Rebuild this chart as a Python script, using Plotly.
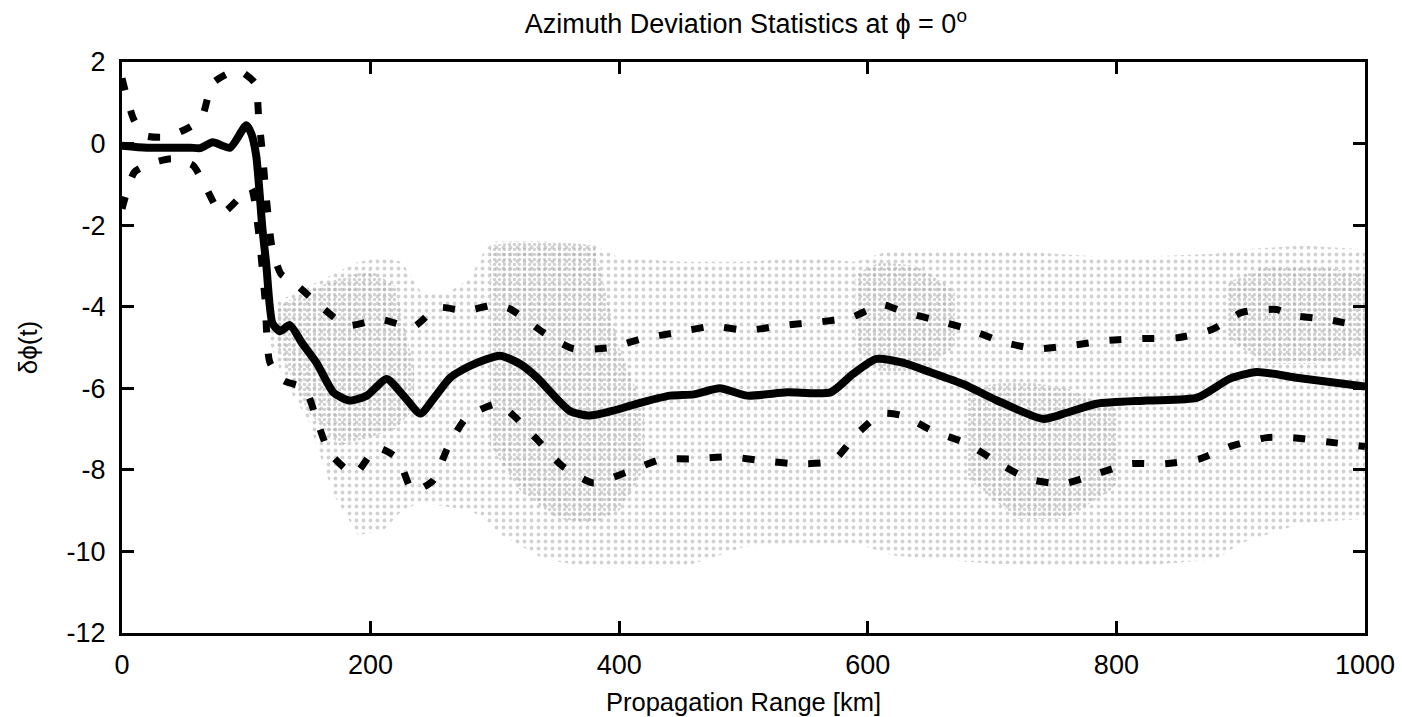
import plotly.graph_objects as go

# ---- statistics curves ----
mean_x = [0, 20, 40, 55, 63, 73, 87, 100, 104, 108, 113, 116, 121, 127, 135, 145, 157, 170, 183, 197, 213,
          227, 240, 252, 264, 280, 304, 320, 334, 360, 376, 395, 414, 441, 460, 481, 503, 535, 570, 588, 607,
          628, 650, 677, 704, 741, 760, 784, 825, 865, 891, 913, 945, 1000]
mean_y = [-0.05, -0.1, -0.1, -0.1, -0.11, 0.03, -0.1, 0.45, 0.25, -0.3, -2.1, -2.94, -4.4, -4.6, -4.45, -4.9,
          -5.4, -6.1, -6.3, -6.18, -5.77, -6.2, -6.62, -6.2, -5.74, -5.45, -5.2, -5.4, -5.74, -6.55, -6.67,
          -6.55, -6.38, -6.18, -6.15, -6.0, -6.18, -6.1, -6.1, -5.65, -5.28, -5.37, -5.6, -5.9, -6.3, -6.75,
          -6.6, -6.38, -6.3, -6.23, -5.77, -5.6, -5.74, -5.96]

upper_x = [0, 9, 18, 35, 53, 64, 73, 93, 107, 110, 113, 116, 121, 128, 138, 159, 181, 208, 234, 254, 277,
           300, 312, 339, 363, 393, 419, 447, 475, 503, 531, 559, 586, 612, 628, 656, 682, 709, 736, 764,
           792, 820, 849, 877, 901, 929, 941, 969, 1000]
upper_y = [1.6, 0.62, 0.2, 0.16, 0.38, 0.62, 1.48, 1.8, 1.48, 0.62, -0.24, -1.3, -2.6, -3.2, -3.4, -3.97,
           -4.46, -4.31, -4.5, -4.02, -4.1, -3.95, -4.05, -4.63, -5.03, -5.0, -4.78, -4.63, -4.48, -4.58,
           -4.46, -4.38, -4.27, -3.95, -4.12, -4.34, -4.56, -4.87, -5.03, -4.95, -4.83, -4.78, -4.76,
           -4.56, -4.14, -4.07, -4.21, -4.31, -4.5]

lower_x = [0, 10, 24, 40, 57, 66, 80, 99, 104, 110, 115, 119, 130, 147, 157, 167, 187, 205, 222, 234, 250,
           262, 277, 302, 315, 335, 354, 379, 405, 433, 461, 489, 516, 544, 572, 590, 611, 628, 652, 680,
           705, 729, 757, 784, 811, 839, 867, 893, 921, 941, 969, 1000]
lower_y = [-1.6, -0.7, -0.48, -0.37, -0.53, -0.98, -1.71, -1.19, -1.1, -2.2, -3.8, -5.37, -5.81, -6.0,
           -6.8, -7.58, -8.1, -7.46, -7.73, -8.52, -8.27, -7.46, -6.72, -6.38, -6.67, -7.29, -7.9, -8.32,
           -8.07, -7.75, -7.73, -7.68, -7.78, -7.85, -7.78, -7.16, -6.62, -6.67, -7.04, -7.36, -7.83,
           -8.22, -8.34, -8.1, -7.85, -7.85, -7.73, -7.41, -7.21, -7.21, -7.31, -7.43]

# ---- scatter cloud envelopes ----
cloud_x = [118, 130, 150, 170, 190, 210, 225, 240, 260, 280, 292, 300, 340, 380, 400, 450, 500, 550, 590,
           600, 620, 700, 800, 880, 900, 950, 1000]
cloud_top = [-4.0, -3.8, -3.5, -3.2, -2.9, -2.8, -2.9, -3.6, -3.7, -3.3, -2.6, -2.4, -2.4, -2.5, -2.8,
             -2.9, -2.9, -2.8, -2.9, -2.8, -2.6, -2.6, -2.8, -2.7, -2.6, -2.5, -2.6]
cloud_bot = [-4.8, -5.8, -6.8, -8.6, -9.6, -9.5, -9.0, -8.8, -8.9, -9.0, -9.2, -9.5, -10.2, -10.4, -10.4,
             -10.4, -9.9, -9.8, -9.8, -9.9, -10.1, -10.3, -10.4, -10.2, -9.8, -9.3, -9.2]

dense_patches = {
    "a": ([125, 150, 175, 200, 220, 235], [-4.0, -3.6, -3.3, -3.1, -3.5, -5.5],
          [-5.0, -6.6, -7.4, -7.2, -7.0, -6.5]),
    "b": ([296, 320, 350, 380, 400, 420], [-2.5, -2.4, -2.4, -2.5, -5.0, -6.5],
          [-7.4, -8.5, -9.2, -9.3, -9.0, -8.0]),
    "c": ([590, 610, 640, 670], [-3.2, -2.9, -3.0, -3.6], [-5.0, -5.6, -5.6, -5.0]),
    "d": ([680, 720, 760, 800], [-6.0, -5.8, -6.0, -6.5], [-8.2, -9.2, -9.2, -8.4]),
    "e": ([890, 920, 960, 1000], [-3.4, -3.0, -3.0, -3.2], [-4.8, -5.4, -5.4, -5.2]),
}

x_ticks = [0, 200, 400, 600, 800, 1000]
y_ticks = [2, 0, -2, -4, -6, -8, -10, -12]

fig = go.Figure()

def band(xs, top, bot, size, solidity):
    fig.add_trace(go.Scatter(
        x=list(xs) + list(xs)[::-1], y=list(top) + list(bot)[::-1],
        mode="lines", line=dict(width=0, color="rgba(0,0,0,0)"),
        fill="toself", fillcolor="rgba(0,0,0,0)",
        fillpattern=dict(shape=".", fgcolor="#a4a4a4", bgcolor="rgba(0,0,0,0)",
                         size=size, solidity=solidity),
        hoverinfo="skip", showlegend=False))

band(cloud_x, cloud_top, cloud_bot, 7, 0.24)
for key, (px, pt, pb) in dense_patches.items():
    band(px, pt, pb, 5, 0.34)

for xs, ys in ((upper_x, upper_y), (lower_x, lower_y)):
    fig.add_trace(go.Scatter(x=xs, y=ys, mode="lines",
                             line=dict(color="black", width=7, dash="12px,21px", shape="spline", smoothing=0.6),
                             showlegend=False))
fig.add_trace(go.Scatter(x=mean_x, y=mean_y, mode="lines",
                         line=dict(color="black", width=8, shape="spline", smoothing=0.6),
                         showlegend=False))

font = "Liberation Sans, Arial, sans-serif"
axis_common = dict(showline=True, linecolor="black", linewidth=3, mirror="ticks",
                   ticks="inside", ticklen=12, tickwidth=3, tickcolor="black",
                   showgrid=False, zeroline=False, automargin=False,
                   tickfont=dict(family=font, size=27, color="black"))

fig.update_layout(
    width=1402, height=717,
    margin=dict(l=122, r=37, t=62, b=84),
    paper_bgcolor="white", plot_bgcolor="white",
    title=dict(text="Azimuth Deviation Statistics at ϕ = 0<sup>o</sup>",
               x=0.532, xanchor="center", y=1 - 24 / 717, yanchor="middle",
               font=dict(family=font, size=27, color="black")),
    xaxis=dict(range=[0, 1000], tickvals=x_ticks, ticktext=[str(v) for v in x_ticks],
               ticklabelstandoff=6,
               title=dict(text="Propagation Range [km]", font=dict(family=font, size=25.5, color="black"),
                          standoff=14),
               **axis_common),
    yaxis=dict(range=[-12, 2], tickvals=y_ticks, ticktext=[str(v) for v in y_ticks],
               ticklabelstandoff=8,
               title=dict(text="δϕ(t)", font=dict(family=font, size=26, color="black"), standoff=22),
               **axis_common),
)

fig.write_html("out.html")
